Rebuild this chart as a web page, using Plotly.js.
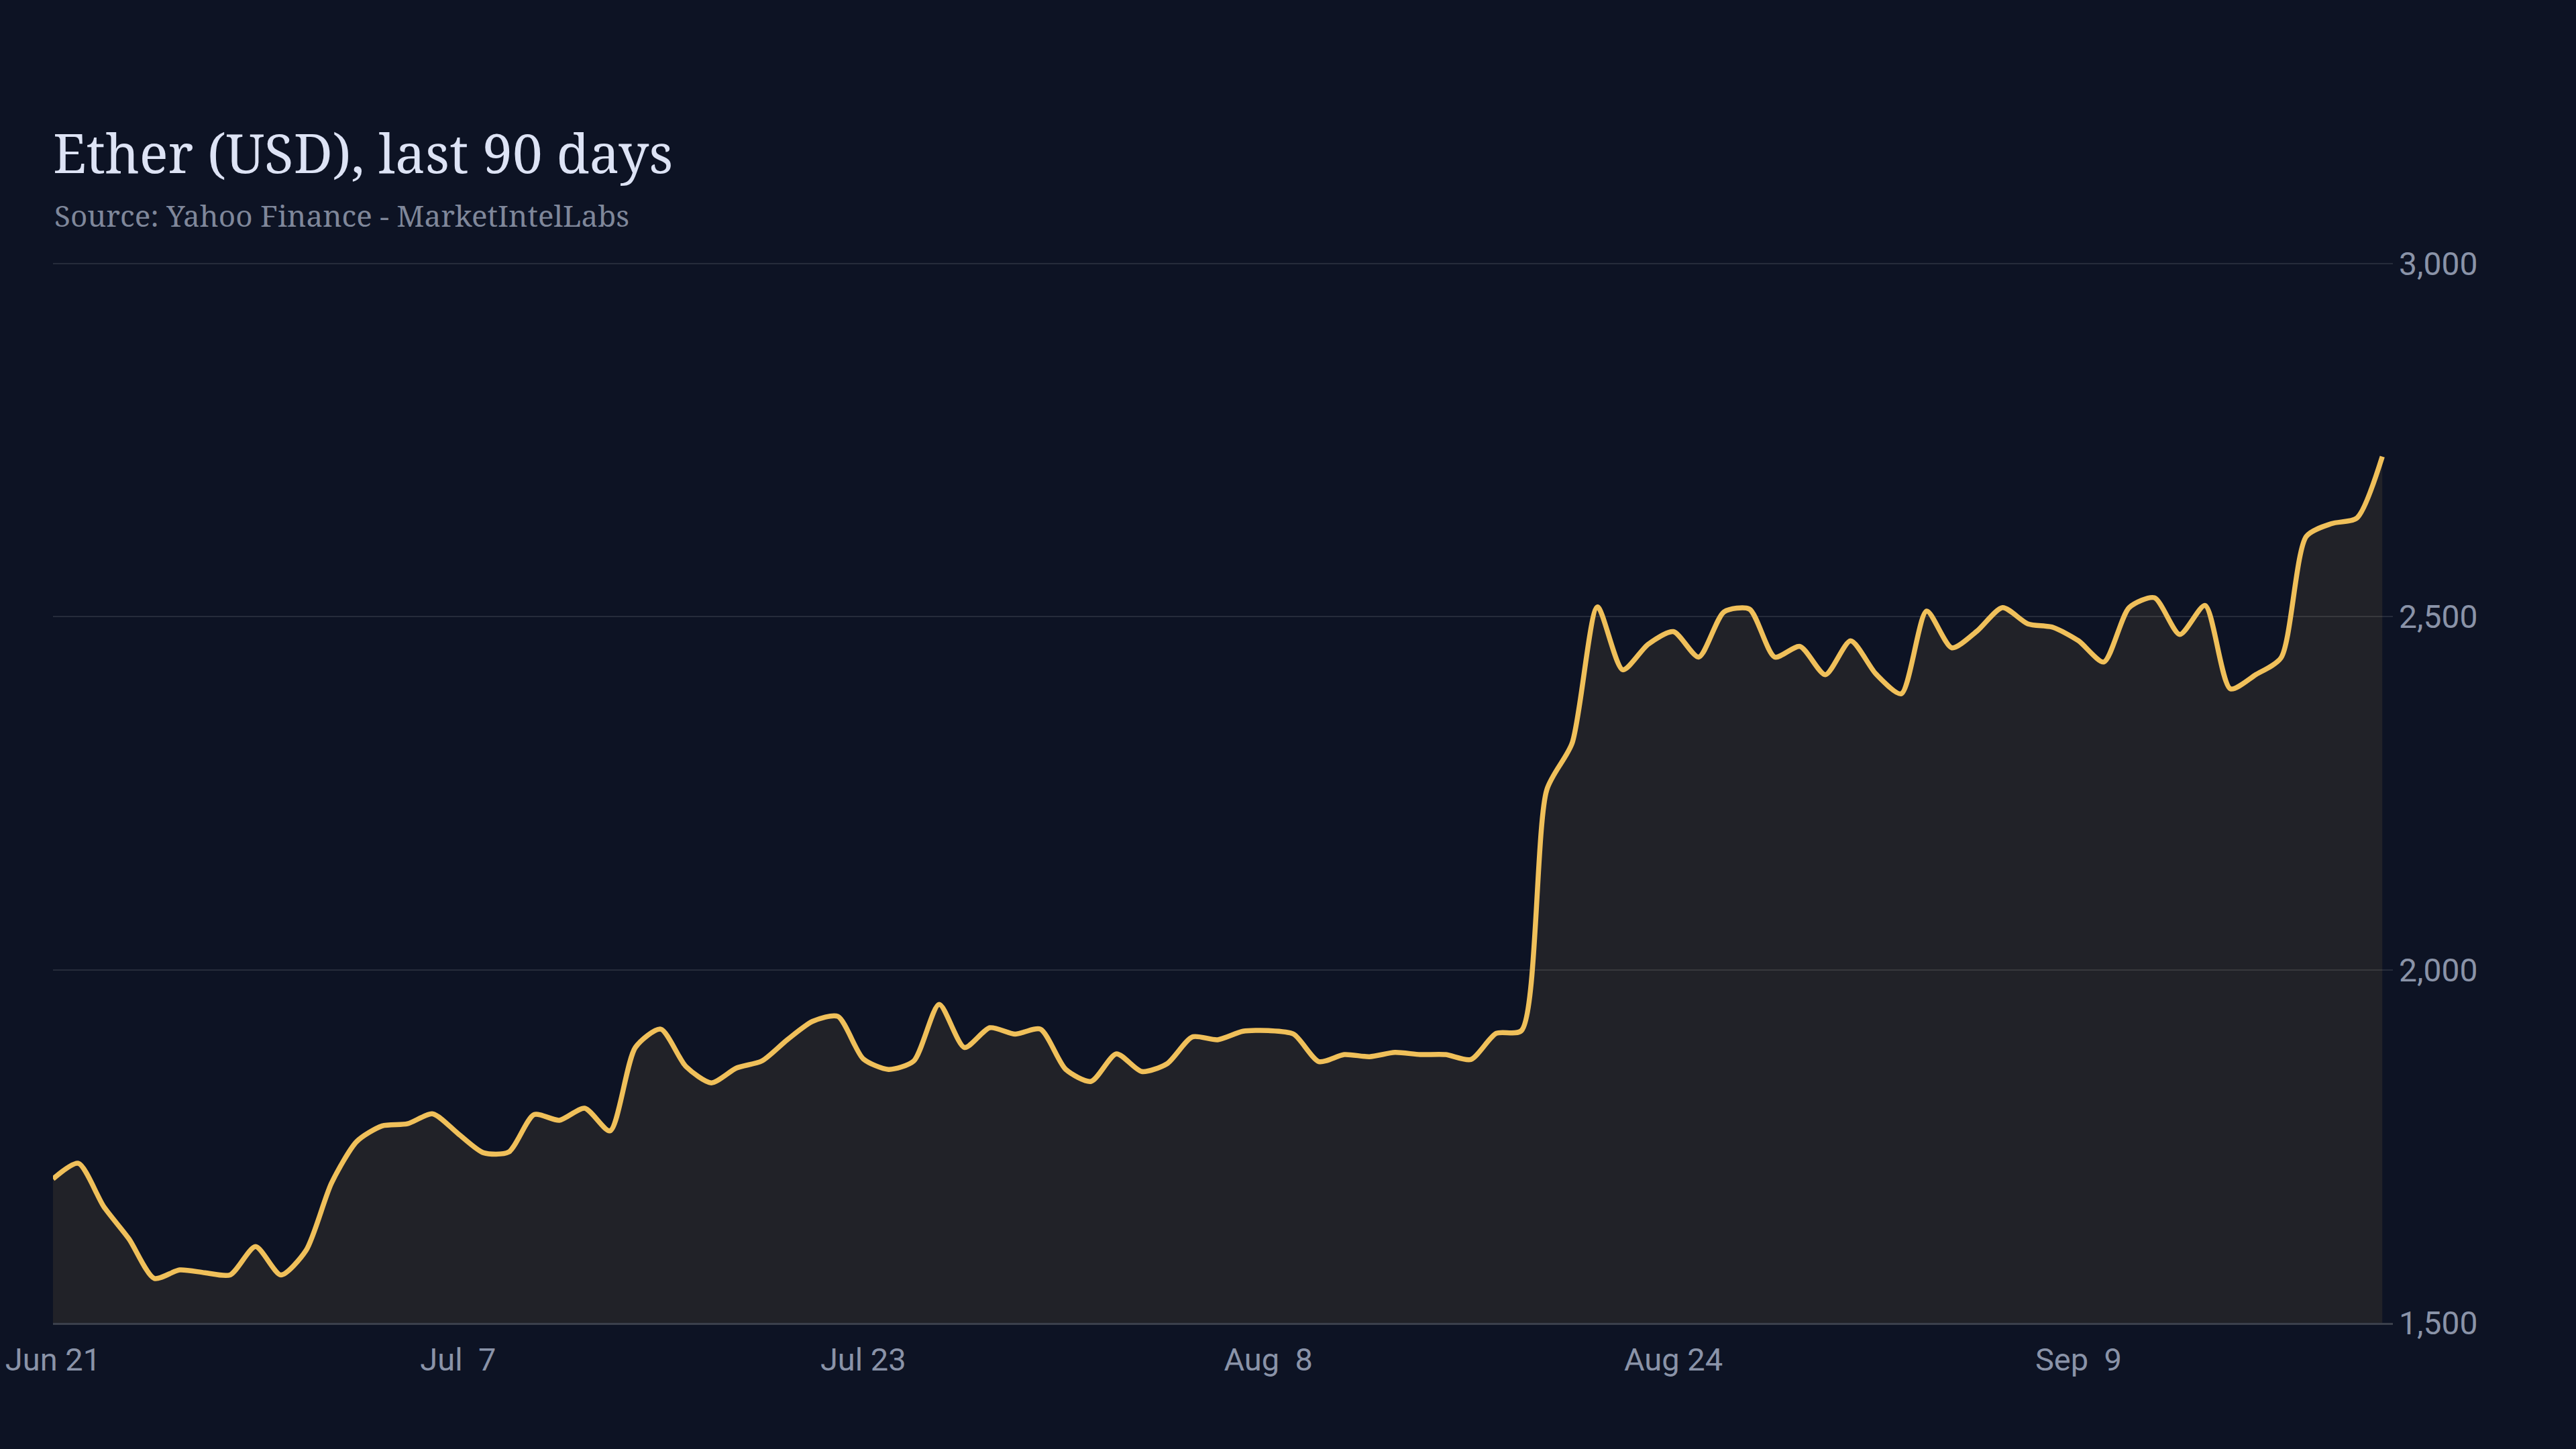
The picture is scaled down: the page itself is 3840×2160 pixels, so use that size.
<!DOCTYPE html>
<html>
<head>
<meta charset="utf-8">
<script src="https://cdn.plot.ly/plotly-3.0.1.min.js"></script>
<style>
  html, body { margin: 0; padding: 0; background: #0d1324; }
  #chart { width: 3840px; height: 2160px; }
</style>
</head>
<body>
<div id="chart"></div>
<script>
// daily closes
const dates = [
  "2024-06-21", "2024-06-22", "2024-06-23", "2024-06-24", "2024-06-25", "2024-06-26", "2024-06-27", "2024-06-28", "2024-06-29", "2024-06-30",
  "2024-07-01", "2024-07-02", "2024-07-03", "2024-07-04", "2024-07-05", "2024-07-06", "2024-07-07", "2024-07-08", "2024-07-09", "2024-07-10",
  "2024-07-11", "2024-07-12", "2024-07-13", "2024-07-14", "2024-07-15", "2024-07-16", "2024-07-17", "2024-07-18", "2024-07-19", "2024-07-20",
  "2024-07-21", "2024-07-22", "2024-07-23", "2024-07-24", "2024-07-25", "2024-07-26", "2024-07-27", "2024-07-28", "2024-07-29", "2024-07-30",
  "2024-07-31", "2024-08-01", "2024-08-02", "2024-08-03", "2024-08-04", "2024-08-05", "2024-08-06", "2024-08-07", "2024-08-08", "2024-08-09",
  "2024-08-10", "2024-08-11", "2024-08-12", "2024-08-13", "2024-08-14", "2024-08-15", "2024-08-16", "2024-08-17", "2024-08-18", "2024-08-19",
  "2024-08-20", "2024-08-21", "2024-08-22", "2024-08-23", "2024-08-24", "2024-08-25", "2024-08-26", "2024-08-27", "2024-08-28", "2024-08-29",
  "2024-08-30", "2024-08-31", "2024-09-01", "2024-09-02", "2024-09-03", "2024-09-04", "2024-09-05", "2024-09-06", "2024-09-07", "2024-09-08",
  "2024-09-09", "2024-09-10", "2024-09-11", "2024-09-12", "2024-09-13", "2024-09-14", "2024-09-15", "2024-09-16", "2024-09-17", "2024-09-18",
  "2024-09-19", "2024-09-20", "2024-09-21"
];

const closes = [
  1704, 1726, 1665, 1619, 1563, 1575, 1571, 1568, 1608, 1568,
  1603, 1698, 1757, 1779, 1782, 1796, 1768, 1741, 1742, 1795,
  1787, 1804, 1772, 1890, 1916, 1863, 1840, 1861, 1871, 1901,
  1927, 1934, 1874, 1859, 1871, 1951, 1890, 1918, 1909, 1916,
  1859, 1842, 1881, 1856, 1867, 1905, 1901, 1913, 1914, 1909,
  1870, 1880, 1877, 1883, 1880, 1880, 1873, 1910, 1914, 2255,
  2321, 2514, 2425, 2461, 2479, 2443, 2507, 2511, 2443, 2458,
  2418, 2466, 2419, 2391, 2508, 2456, 2480, 2513, 2490, 2485,
  2466, 2436, 2513, 2527, 2475, 2516, 2398, 2418, 2442, 2614,
  2632, 2640, 2727
];

const yTicks = [1500, 2000, 2500, 3000];
const xRange = ["2024-06-21", "2024-09-21 10:00"];

const titleText = "Ether (USD), last 90 days";
const sourceText = "Source: Yahoo Finance - MarketIntelLabs";

const W = 3840, H = 2160;
const margin = { l: 79, r: 273, t: 390, b: 188 };
const plotH = H - margin.t - margin.b;

const trace = {
  type: "scatter",
  mode: "lines",
  x: dates,
  y: closes,
  line: { color: "#f0c05a", width: 7.5, shape: "spline", smoothing: 0.7 },
  fill: "tozeroy",
  fillcolor: "rgba(240,192,90,0.09)",
  hoverinfo: "skip"
};

const layout = {
  width: W,
  height: H,
  paper_bgcolor: "#0d1324",
  plot_bgcolor: "#0d1324",
  margin: margin,
  showlegend: false,
  title: {
    text: titleText,
    font: { family: "Noto Serif, DejaVu Serif, Liberation Serif, serif", size: 80, color: "#dde3f5" },
    xref: "container",
    yref: "container",
    x: margin.l / W,
    xanchor: "left",
    y: 1 - 230 / H,
    yanchor: "middle"
  },
  annotations: [{
    text: sourceText,
    xref: "paper",
    yref: "paper",
    x: 0,
    xanchor: "left",
    y: 1 + (margin.t - 321) / plotH,
    yanchor: "middle",
    showarrow: false,
    font: { family: "Noto Serif, DejaVu Serif, Liberation Serif, serif", size: 44, color: "#7f879a" }
  }],
  xaxis: {
    type: "date",
    range: xRange,
    tick0: "2024-06-21",
    dtick: 16 * 86400000,
    tickformat: "%b %e",
    showgrid: false,
    zeroline: false,
    showline: true,
    linecolor: "#3b404c",
    linewidth: 2.5,
    ticks: "",
    ticklabelstandoff: 12,
    tickfont: { family: "Roboto, Liberation Sans, sans-serif", size: 47, color: "#8a93a8" },
    fixedrange: true
  },
  yaxis: {
    side: "right",
    range: [1500, 3003],
    tickvals: yTicks,
    tickformat: ",d",
    showgrid: true,
    gridcolor: "#262c3b",
    gridwidth: 2,
    zeroline: false,
    showline: false,
    ticks: "",
    ticklabelstandoff: 8,
    tickfont: { family: "Roboto, Liberation Sans, sans-serif", size: 48, color: "#8a93a8" },
    fixedrange: true
  }
};

Plotly.newPlot("chart", [trace], layout, { displayModeBar: false, staticPlot: true });
</script>
</body>
</html>
